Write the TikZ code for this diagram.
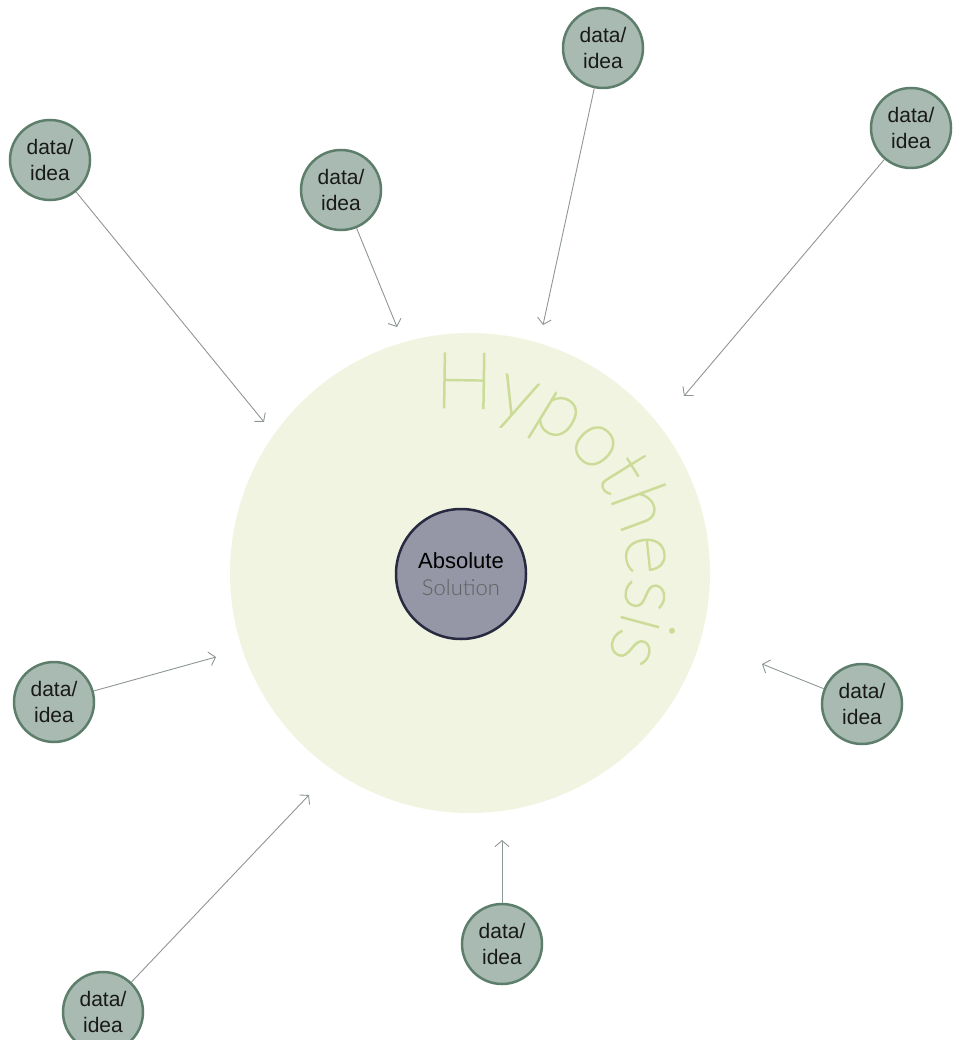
\documentclass[tikz,border=0pt]{standalone}
\usepackage{fontspec}
\setmainfont{Liberation Sans}
\IfFontExistsTF{Lato Hairline}{\newfontfamily\hairfont{Lato Hairline}[FakeBold=2]}{\newfontfamily\hairfont{Lato Light}}
\IfFontExistsTF{Lato Light}{\newfontfamily\thinfont{Lato Light}}{\newfontfamily\thinfont{Lato}}
\usetikzlibrary{arrows.meta,decorations.text}
\definecolor{bigfill}{HTML}{F0F4E0}
\definecolor{hypo}{HTML}{CCDC98}
\definecolor{corefill}{HTML}{9596A6}
\definecolor{coreline}{HTML}{272A40}
\definecolor{smallfill}{HTML}{A8BAB2}
\definecolor{smallline}{HTML}{5E7E6C}
\definecolor{arrowc}{HTML}{8E9696}
\tikzset{
  datanode/.style={circle, minimum size=80pt, inner sep=0pt, fill=smallfill, draw=smallline, line width=2.5pt, align=center, font=\fontsize{21}{26}\selectfont, text=black!90},
  feed/.style={draw=arrowc, line width=0.9pt, -{Straight Barb[length=6pt,width=14pt]}}
}
\begin{document}
\begin{tikzpicture}[x=1pt,y=-1pt]
\useasboundingbox (0,0) rectangle (952,1040);
\fill[bigfill] (470,573) circle[radius=240];
\path[decorate, decoration={text along path, text align=center,
  text={|\hairfont\fontsize{78}{96}\selectfont\color{hypo}|Hypothesis}}]
  (461,574) ++(-148:166) arc[start angle=-148, end angle=78, radius=166];
\node[circle, minimum size=130pt, inner sep=0pt, fill=corefill, draw=coreline, line width=2.5pt, align=center, font=\fontsize{22}{27}\selectfont] (core) at (461,574)
  {Absolute\\{\thinfont\color{black!62}Solution}};
\node[datanode] (d1) at (50,160) {data/\\idea};
\node[datanode] (d2) at (341,190) {data/\\idea};
\node[datanode] (d3) at (603,48) {data/\\idea};
\node[datanode] (d4) at (911,128) {data/\\idea};
\node[datanode] (d5) at (54,702) {data/\\idea};
\node[datanode] (d6) at (862,704) {data/\\idea};
\node[datanode] (d7) at (502,944) {data/\\idea};
\node[datanode] (d8) at (103,1012) {data/\\idea};
\coordinate (t1) at (264,422);
\coordinate (t2) at (397,327);
\coordinate (t3) at (543,325);
\coordinate (t4) at (684,396);
\coordinate (t5) at (216,657);
\coordinate (t6) at (762,664);
\coordinate (t7) at (502,840);
\coordinate (t8) at (309,795);
\foreach \i in {1,...,8} \draw[feed] (d\i) -- (t\i);
\end{tikzpicture}
\end{document}
